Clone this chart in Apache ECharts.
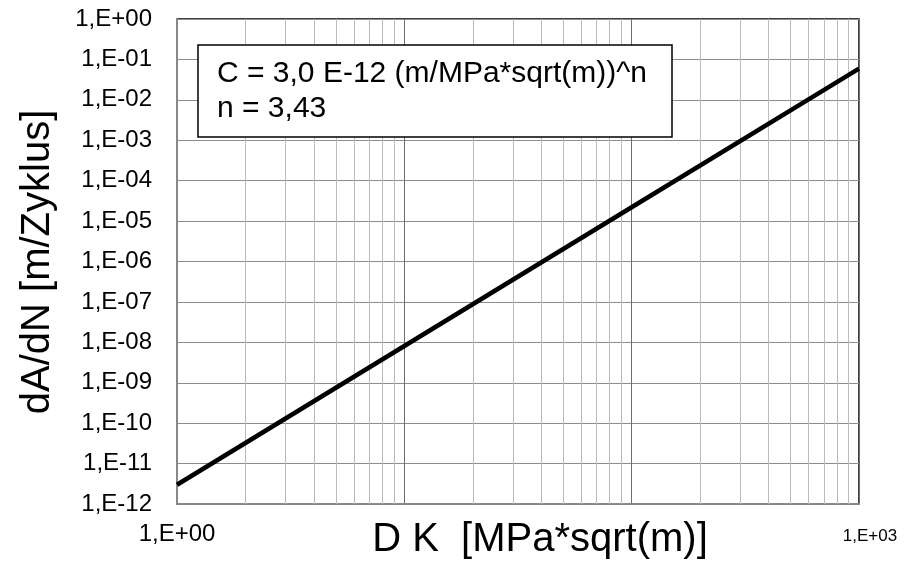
<!DOCTYPE html>
<html>
<head>
<meta charset="utf-8">
<script src="https://cdn.jsdelivr.net/npm/echarts@6/dist/echarts.min.js"></script>
<style>
html,body{margin:0;padding:0;background:#fff;}
#chart{width:911px;height:563px;}
</style>
</head>
<body>
<div id="chart"></div>
<script>
// ---- data ----
const deltaK = [1, 10, 100, 1000];                 // MPa*sqrt(m)
const crackRate = [3.0e-12, 8.1e-9, 2.2e-5, 5.9e-2]; // m/Zyklus
const minorXGrid = [2,3,4,5,6,7,8,9,20,30,40,50,60,70,80,90,200,300,400,500,600,700,800,900];
const xAxisTitle = 'D K  [MPa*sqrt(m)]';
const yAxisTitle = 'dA/dN [m/Zyklus]';
const boxLine1 = 'C = 3,0 E-12 (m/MPa*sqrt(m))^n';
const boxLine2 = 'n = 3,43';

const FONT = '"Liberation Sans", Arial, sans-serif';

function sciLabel(v) {
  const e = Math.round(Math.log10(v));
  return '1,E' + (e < 0 ? '-' : '+') + String(Math.abs(e)).padStart(2, '0');
}

const chart = echarts.init(document.getElementById('chart'), null, {renderer: 'canvas'});
chart.setOption({
  animation: false,
  backgroundColor: '#fff',
  grid: {
    left: 177, right: 52, top: 19, bottom: 59,
    show: true, borderColor: '#000', borderWidth: 1.5, backgroundColor: 'transparent'
  },
  xAxis: {
    type: 'log', logBase: 10, min: 1, max: 1000, interval: 1,
    axisLine: {show: true, lineStyle: {color: '#888', width: 2}},
    axisTick: {show: false},
    splitLine: {show: true, lineStyle: {color: '#6e6e6e', width: 1}},
    axisLabel: {
      margin: 18,
      fontFamily: FONT, color: '#000',
      formatter: function (v) {
        if (Math.abs(v - 1) < 1e-9) return '{a|' + sciLabel(v) + '}';
        if (Math.abs(v - 1000) < 1e-6) return '{b|' + sciLabel(v) + '}';
        return '';
      },
      rich: {
        a: {fontSize: 24, fontFamily: FONT, color: '#000'},
        b: {fontSize: 17, fontFamily: FONT, color: '#000', padding: [6, 0, 0, 22]}
      }
    }
  },
  yAxis: {
    type: 'log', logBase: 10, min: 1e-12, max: 1, interval: 1,
    axisLine: {show: true, lineStyle: {color: '#888', width: 2}},
    axisTick: {show: false},
    splitLine: {show: true, lineStyle: {color: '#8c8c8c', width: 1}},
    axisLabel: {
      margin: 25, fontSize: 24, fontFamily: FONT, color: '#000',
      formatter: sciLabel
    }
  },
  series: [{
    type: 'line',
    data: deltaK.map((x, i) => [x, crackRate[i]]),
    showSymbol: false,
    lineStyle: {color: '#000', width: 4.5},
    z: 5,
    markLine: {
      silent: true,
      symbol: ['none', 'none'],
      label: {show: false},
      lineStyle: {color: '#bcbcbc', width: 1, type: 'solid'},
      data: minorXGrid.map(v => ({xAxis: v})),
      z: 1
    }
  }],
  graphic: [
    {
      type: 'rect', z: 100,
      shape: {x: 198, y: 45, width: 474, height: 92},
      style: {fill: '#fff', stroke: '#000', lineWidth: 1.5}
    },
    {
      type: 'text', z: 101, x: 217, y: 74,
      style: {text: boxLine1, font: '30px ' + FONT, fill: '#000', textAlign: 'left', textVerticalAlign: 'middle'}
    },
    {
      type: 'text', z: 101, x: 217, y: 109,
      style: {text: boxLine2, font: '30px ' + FONT, fill: '#000', textAlign: 'left', textVerticalAlign: 'middle'}
    },
    {
      type: 'text', z: 101, x: 540, y: 540,
      style: {text: xAxisTitle, font: '40px ' + FONT, fill: '#000', textAlign: 'center', textVerticalAlign: 'middle'}
    },
    {
      type: 'text', z: 101, x: 38, y: 262, rotation: Math.PI / 2,
      style: {text: yAxisTitle, font: '40px ' + FONT, fill: '#000', textAlign: 'center', textVerticalAlign: 'middle'}
    }
  ]
});
</script>
</body>
</html>
